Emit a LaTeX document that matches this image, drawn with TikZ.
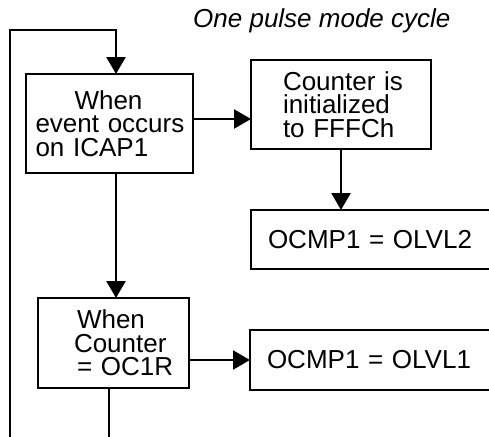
\documentclass[tikz,border=0pt]{standalone}
\usepackage{fontspec}
\setmainfont{Liberation Sans}
\usetikzlibrary{arrows.meta}
\begin{document}
\begin{tikzpicture}[x=1pt,y=-1pt,
  box/.style={draw,line width=2.4pt,inner ysep=0pt,outer sep=0pt,align=left,
    font=\fontsize{26}{23.5}\selectfont},
  arr/.style={line width=2.4pt,-{Triangle[length=17pt,width=19pt]}},
  ln/.style={line width=2.4pt}]
\useasboundingbox (0,0) rectangle (489,436);
% title
\node[anchor=base west,inner sep=0pt,font=\fontsize{26}{24}\selectfont\itshape] (title) at (193,28) {One pulse mode cycle};
% boxes
\node[box,text width=148pt,inner xsep=9.5pt,minimum height=99pt] (b1) at (109.5,123.5)
  {\hspace*{39pt}When\\\mbox{event occurs}\\on ICAP1};
\node[box,text width=116pt,inner xsep=32pt,minimum height=89pt] (b2) at (341,104.5)
  {\mbox{Counter is}\\initialized\\to FFFCh};
\node[box,anchor=west,text width=226pt,inner xsep=17pt,minimum height=59pt] (b3) at (251,239.5)
  {OCMP1 = OLVL2};
\node[box,text width=79pt,inner xsep=36pt,minimum height=90pt] (b4) at (113.5,343)
  {\hspace*{3pt}\mbox{When}\\\mbox{Counter}\\\hspace*{3pt}\mbox{= OC1R}};
\node[box,anchor=west,text width=226pt,inner xsep=17pt,minimum height=60pt] (b5) at (250,360)
  {OCMP1 = OLVL1};
% helper coordinates
\coordinate (loopbot) at (10,445);
\coordinate (looptop) at (116,30);
\coordinate (a1) at (0,119);
\coordinate (exitbot) at (109,445);
% connectors
\draw[arr] (loopbot) |- (looptop) -- (looptop |- b1.north);
\draw[arr] (b1.east |- a1) -- (b2.west |- a1);
\draw[arr] (b2.south) -- (b2.south |- b3.north);
\draw[arr] (b1.south -| looptop) -- (b4.north -| looptop);
\draw[arr] (b4.east |- b5.west) -- (b5.west);
\draw[ln] (b4.south -| exitbot) -- (exitbot);
\end{tikzpicture}
\end{document}
